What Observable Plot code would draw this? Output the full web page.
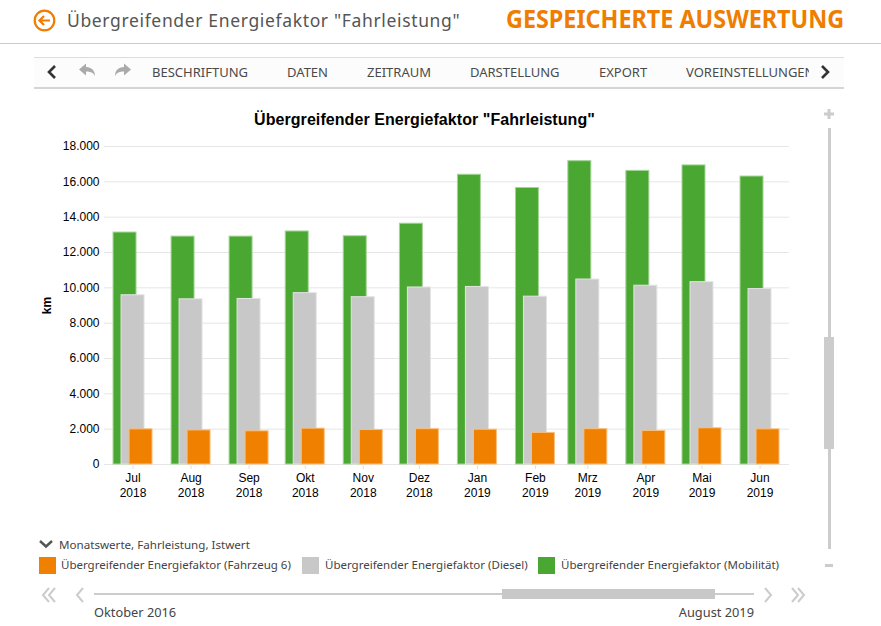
<!DOCTYPE html>
<html lang="de"><head><meta charset="utf-8">
<script src="https://cdn.jsdelivr.net/npm/d3@7"></script>
<script src="https://cdn.jsdelivr.net/npm/@observablehq/plot@0.6"></script>
<style>
html,body{margin:0;padding:0;background:#fff;overflow:hidden}
#page{position:relative;width:881px;height:626px;font-family:"Noto Sans",sans-serif;color:#444}
#page>*{position:absolute}
.t{white-space:nowrap;line-height:1}
.nav{top:66px;font-size:13px;color:#4a4a4a}
.leg{top:559px;font-size:11.5px;color:#444}
.sw{top:557px;width:17px;height:17px}
#chart{left:0;top:100px}
</style></head><body>
<div id="page">
<svg style="left:33px;top:9px" width="24" height="24" viewBox="0 0 24 24" fill="none" stroke="#ef7d00" stroke-width="2.2"><circle cx="11.5" cy="11.5" r="9.8"/><path d="M17 11.5H6.5M11 7l-4.5 4.5L11 16"/></svg>
<div class="t" style="left:67px;top:12px;font-size:17.5px;color:#555;letter-spacing:.65px">Übergreifender Energiefaktor "Fahrleistung"</div>
<div class="t" style="left:506px;top:6px;font-size:25.5px;font-weight:700;color:#ef7d00;transform:scaleX(.916);transform-origin:left center">GESPEICHERTE AUSWERTUNG</div>
<div style="left:0;top:43px;width:881px;height:1px;background:#ccc"></div>
<div style="left:34px;top:57px;width:810px;height:29px;border-top:1px solid #ddd;border-bottom:2px solid #d5d5d5;background:#fcfcfc"></div>
<svg style="left:34px;top:58px" width="810" height="28" fill="none" stroke-width="2.6"><path d="M21 8l-6 6 6 6" stroke="#333"/><path d="M788 8l6 6-6 6" stroke="#333"/>
<path d="M45 11.5l7-6v3.5c5.5 0 9 3.5 9 9-2-3.500-4.500-4.500-9-4.500v4z" fill="#aaa" stroke="none"/><path d="M97 11.500l-7-6v3.500c-5.500 0-9 3.500-9 9 2-3.500 4.500-4.500 9-4.500v4z" fill="#aaa" stroke="none"/></svg>
<div class="t nav" style="left:152px">BESCHRIFTUNG</div>
<div class="t nav" style="left:287px">DATEN</div>
<div class="t nav" style="left:367px">ZEITRAUM</div>
<div class="t nav" style="left:470px">DARSTELLUNG</div>
<div class="t nav" style="left:599px">EXPORT</div>
<div class="t nav" style="left:686px;width:123px;overflow:hidden">VOREINSTELLUNGEN</div>
<div class="t" id="title" style="left:0;width:849px;top:111px;text-align:center;font:bold 16px 'Liberation Sans',sans-serif;letter-spacing:.07px;color:#000">Übergreifender Energiefaktor "Fahrleistung"</div>
<div id="chart"></div>
<div style="left:827.5px;top:128px;width:3px;height:421px;background:#ccc"></div>
<div style="left:824px;top:337px;width:10px;height:112px;background:#ccc"></div>
<svg style="left:822px;top:107px" width="14" height="14"><path d="M7 2v10M2 7h10" stroke="#ccc" stroke-width="3"/></svg>
<div style="left:825px;top:564px;width:8px;height:3px;background:#ccc"></div>
<svg style="left:38px;top:539px" width="16" height="11" fill="none"><path d="M2 2l6 5.5L14 2" stroke="#555" stroke-width="2.4"/></svg>
<div class="t" style="left:59px;top:539px;font-size:11.6px;color:#444">Monatswerte, Fahrleistung, Istwert</div>
<div class="sw" style="left:39px;background:#f08000"></div>
<div class="t leg" style="left:61px">Übergreifender Energiefaktor (Fahrzeug 6)</div>
<div class="sw" style="left:302px;background:#c8c8c8"></div>
<div class="t leg" style="left:325px">Übergreifender Energiefaktor (Diesel)</div>
<div class="sw" style="left:538px;background:#4aa832"></div>
<div class="t leg" style="left:561px">Übergreifender Energiefaktor (Mobilität)</div>
<div style="left:94px;top:593px;width:660px;height:2px;background:#ccc"></div>
<div style="left:502px;top:589px;width:213px;height:10px;background:#c8c8c8"></div>
<svg style="left:40px;top:586px" width="770" height="18" fill="none" stroke="#ccc" stroke-width="2"><path d="M9 2l-6 7 6 7M15 2l-6 7 6 7M43 2l-6 7 6 7M725 2l6 7-6 7M752 2l6 7-6 7M758 2l6 7-6 7"/></svg>
<div class="t" style="left:94px;top:606px;font-size:12.8px;color:#444">Oktober 2016</div>
<div class="t" style="right:127px;top:606px;font-size:12.8px;color:#444">August 2019</div>
</div>
<script>
const monthStarts = ["2018-07-01","2018-08-01","2018-09-01","2018-10-01","2018-11-01","2018-12-01","2019-01-01","2019-02-01","2019-03-01","2019-04-01","2019-05-01","2019-06-01"];
const monthNames = ["Jul","Aug","Sep","Okt","Nov","Dez","Jan","Feb","Mrz","Apr","Mai","Jun"];
const monthYears = ["2018","2018","2018","2018","2018","2018","2019","2019","2019","2019","2019","2019"];
const mobilitaet = [13130,12900,12900,13190,12920,13630,16400,15650,17170,16620,16930,16300];
const diesel = [9580,9350,9370,9700,9470,10020,10050,9500,10470,10120,10320,9930];
const fahrzeug6 = [1990,1930,1880,2030,1950,2000,1970,1790,2000,1900,2050,1990];
const yTicks = [0,2000,4000,6000,8000,10000,12000,14000,16000,18000];

const dates = monthStarts.map(d => new Date(d + "T00:00:00Z"));
const tickLabel = new Map(dates.map((d,i) => [+d, monthNames[i] + "\n" + monthYears[i]]));
const de = d3.formatLocale({decimal:",",thousands:".",grouping:[3],currency:["","€"]}).format(",d");
const rows = vals => vals.map((v,i) => ({date:dates[i], v}));
const bars = (vals, fill, stroke, dx) => Plot.rect(rows(vals), {
  x1:"date", x2:"date", y1:0, y2:"v", fill, stroke, strokeWidth:1,
  insetLeft:-11.5, insetRight:-11.5, dx
});
const chart = Plot.plot({
  width:881, height:410, marginLeft:104, marginRight:92, marginTop:46, marginBottom:46,
  style:{background:"transparent", fontFamily:"'Liberation Sans',sans-serif", fontSize:"12px", color:"#000", overflow:"visible"},
  x:{type:"utc", domain:[new Date("2018-06-15T18:00:00Z"), new Date("2019-06-16T18:00:00Z")], label:null},
  y:{domain:[0,18000], label:null},
  marks:[
    Plot.ruleY(yTicks, {stroke:"#e6e6e6", strokeWidth:1}),
    bars(mobilitaet, "#4aa832", "#a5d498", -8),
    bars(diesel, "#c8c8c8", "#e3e3e3", 0),
    bars(fahrzeug6, "#f08000", "#f8c080", 8),
    Plot.axisY({ticks:yTicks, tickSize:0, tickPadding:5, tickFormat:de, label:null, fill:"#000"}),
    Plot.axisX({ticks:dates, tickSize:5, tickPadding:3, stroke:"#e0e0e0", fill:"#000", tickFormat:d => tickLabel.get(+d), label:null, lineHeight:1.17}),
    Plot.text(["km"], {frameAnchor:"left", dx:-57, rotate:-90, textAnchor:"middle", fontWeight:"bold", fontSize:12, fill:"#000"})
  ]
});
document.getElementById("chart").appendChild(chart);
</script>
</body></html>
